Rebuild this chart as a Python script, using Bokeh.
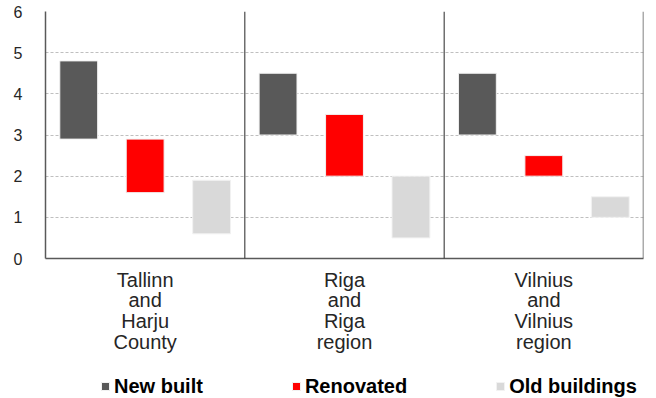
from bokeh.plotting import figure
from bokeh.layouts import column
from bokeh.models import FactorRange, Range1d, Span, Legend, LegendItem
from bokeh.transform import dodge
from bokeh.embed import file_html
from bokeh.resources import INLINE

# Price ranges by region and dwelling type
regions = ["Tallinn\nand\nHarju\nCounty", "Riga\nand\nRiga\nregion", "Vilnius\nand\nVilnius\nregion"]
series = ["New built", "Renovated", "Old buildings"]
colors = ["#595959", "#FF0000", "#D9D9D9"]
new_low = [2.9, 3.0, 3.0]
new_high = [4.8, 4.5, 4.5]
ren_low = [1.6, 2.0, 2.0]
ren_high = [2.9, 3.5, 2.5]
old_low = [0.6, 0.5, 1.0]
old_high = [1.9, 2.0, 1.5]
y_ticks = [0, 1, 2, 3, 4, 5, 6]

FONT = "Liberation Sans"
BAR_LINE = "#F2F2F2"

p = figure(
    x_range=FactorRange(*regions, range_padding=0),
    y_range=(0, 6),
    width=656, height=370,
    min_border_left=45, min_border_right=13,
    min_border_top=11, min_border_bottom=112,
    toolbar_location=None, output_backend="svg",
)
p.outline_line_color = None

src = dict(region=regions,
           new_low=new_low, new_high=new_high,
           ren_low=ren_low, ren_high=ren_high,
           old_low=old_low, old_high=old_high)

offsets = [-1 / 3, 0, 1 / 3]
cols = [("new_low", "new_high"), ("ren_low", "ren_high"), ("old_low", "old_high")]


def draw_bars(fig):
    out = []
    for (lo, hi), off, col in zip(cols, offsets, colors):
        out.append(fig.vbar(x=dodge("region", off, range=fig.x_range), bottom=lo, top=hi,
                            width=0.19, source=src, fill_color=col, line_color=BAR_LINE,
                            line_width=1))
    return out


draw_bars(p)

# y axis
p.yaxis.ticker = y_ticks
p.yaxis.major_tick_out = 0
p.yaxis.major_tick_in = 0
p.yaxis.minor_tick_out = 0
p.yaxis.minor_tick_in = 0
p.yaxis.major_label_standoff = 23
p.yaxis.major_label_text_font = FONT
p.yaxis.major_label_text_font_size = "16px"
p.yaxis.major_label_text_color = "#262626"
p.yaxis.axis_line_color = "#595959"
p.yaxis.axis_line_width = 1.5

# x axis with stacked region names
p.xaxis.major_tick_out = 0
p.xaxis.major_tick_in = 0
p.xaxis.major_label_standoff = 10
p.xaxis.major_label_text_font = FONT
p.xaxis.major_label_text_font_size = "20px"
p.xaxis.major_label_text_color = "#262626"
p.xaxis.major_label_text_line_height = 0.95
p.xaxis.axis_line_color = "#595959"
p.xaxis.axis_line_width = 1.5

# grid
p.xgrid.grid_line_color = None
p.ygrid.ticker = y_ticks
p.ygrid.grid_line_color = "#BFBFBF"
p.ygrid.grid_line_dash = "3 2"

# region separators and right border
for loc, c, w in [(1, "#262626", 1), (2, "#262626", 1), (3, "#595959", 1.5)]:
    p.add_layout(Span(location=loc, dimension="height", line_color=c, line_width=w))

# legend strip underneath the chart (its bars sit outside the visible y span,
# only the legend swatches show)
lg = figure(width=656, height=28, x_range=p.x_range, y_range=Range1d(10, 11),
            min_border_left=45, min_border_right=13, min_border_top=0, min_border_bottom=0,
            toolbar_location=None, output_backend="svg",
            x_axis_type=None, y_axis_type=None)
lg.outline_line_color = None
lg.xgrid.grid_line_color = None
lg.ygrid.grid_line_color = None
swatches = draw_bars(lg)

legend = Legend(
    items=[LegendItem(label=s, renderers=[r]) for s, r in zip(series, swatches)],
    orientation="horizontal",
    location=(55, 0),
    spacing=88,
    padding=0,
    margin=0,
    glyph_width=10,
    glyph_height=10,
    label_standoff=4,
    label_height=24,
    label_text_font=FONT,
    label_text_font_size="20px",
    label_text_font_style="bold",
    label_text_color="#000000",
    border_line_color=None,
    background_fill_color=None,
)
lg.add_layout(legend, "center")

open("out.html", "w").write(file_html(column(p, lg, spacing=0), INLINE))
